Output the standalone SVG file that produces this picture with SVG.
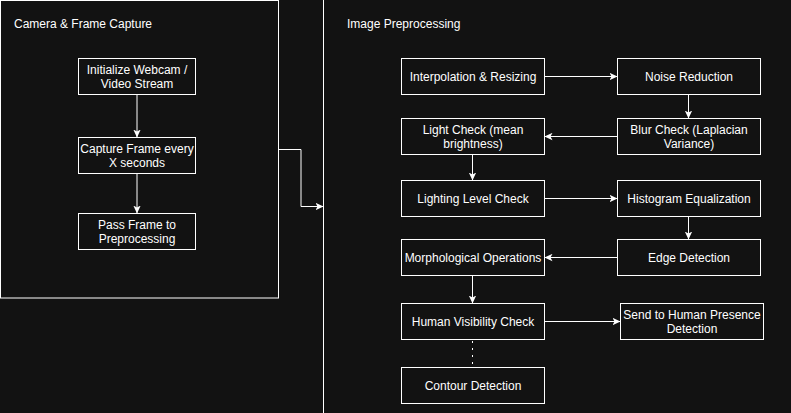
<svg xmlns="http://www.w3.org/2000/svg" width="791" height="413" viewBox="0 0 791 413">
<defs>
<marker id="arr" markerUnits="userSpaceOnUse" markerWidth="8" markerHeight="8" viewBox="0 0 8 8" refX="8" refY="4" orient="auto">
<path d="M0,0.3 L8,4 L0,7.7 L2,4 Z" fill="#ffffff"/>
</marker>
</defs>
<style>
.bg{fill:#121212}
.box{fill:#121212;stroke:#ffffff;stroke-width:1}
.t{font-family:"Liberation Sans",Arial,Helvetica,sans-serif;font-size:12px;fill:#ffffff}
.c{text-anchor:middle}
.e{fill:none;stroke:#ffffff;stroke-width:1}
.ea{fill:none;stroke:#ffffff;stroke-width:1;marker-end:url(#arr)}
.dot{fill:none;stroke:#ffffff;stroke-width:1;stroke-dasharray:2 5}
</style>
<rect class="bg" x="0" y="0" width="791" height="413"/>

<g id="container-camera">
<rect class="box" x="0.5" y="0.5" width="278" height="297.5"/>
<text class="t" x="14" y="27.5">Camera &amp; Frame Capture</text>
</g>
<g id="container-preprocessing">
<rect class="box" x="323.5" y="-5" width="500" height="430"/>
<text class="t" x="347" y="27.5">Image Preprocessing</text>
</g>

<g id="node-init">
<rect class="box" x="78.5" y="58.5" width="117" height="36"/>
<text class="t c" x="137" y="73.8">Initialize Webcam /</text>
<text class="t c" x="137" y="87.8">Video Stream</text>
</g>
<g id="node-capture">
<rect class="box" x="78.5" y="137.5" width="117" height="36"/>
<text class="t c" x="137" y="152.8">Capture Frame every</text>
<text class="t c" x="137" y="166.8">X seconds</text>
</g>
<g id="node-pass">
<rect class="box" x="78.5" y="213.5" width="117" height="36"/>
<text class="t c" x="137" y="228.8">Pass Frame to</text>
<text class="t c" x="137" y="242.8">Preprocessing</text>
</g>

<g id="node-interp">
<rect class="box" x="401.5" y="58.5" width="143" height="36"/>
<text class="t c" x="473" y="80.8">Interpolation &amp; Resizing</text>
</g>
<g id="node-noise">
<rect class="box" x="617.5" y="58.5" width="143" height="36"/>
<text class="t c" x="689" y="80.8">Noise Reduction</text>
</g>
<g id="node-light">
<rect class="box" x="401.5" y="118.5" width="143" height="36"/>
<text class="t c" x="473" y="133.8">Light Check (mean</text>
<text class="t c" x="473" y="147.8">brightness)</text>
</g>
<g id="node-blur">
<rect class="box" x="617.5" y="118.5" width="143" height="36"/>
<text class="t c" x="689" y="133.8">Blur Check (Laplacian</text>
<text class="t c" x="689" y="147.8">Variance)</text>
</g>
<g id="node-lighting">
<rect class="box" x="401.5" y="180.5" width="143" height="36"/>
<text class="t c" x="473" y="202.8">Lighting Level Check</text>
</g>
<g id="node-histogram">
<rect class="box" x="617.5" y="180.5" width="143" height="36"/>
<text class="t c" x="689" y="202.8">Histogram Equalization</text>
</g>
<g id="node-morph">
<rect class="box" x="401.5" y="239.5" width="143" height="36"/>
<text class="t c" x="473" y="261.8">Morphological Operations</text>
</g>
<g id="node-edge">
<rect class="box" x="617.5" y="239.5" width="143" height="36"/>
<text class="t c" x="689" y="261.8">Edge Detection</text>
</g>
<g id="node-human">
<rect class="box" x="401.5" y="303.5" width="143" height="36"/>
<text class="t c" x="473" y="325.8">Human Visibility Check</text>
</g>
<g id="node-send">
<rect class="box" x="620.5" y="303.5" width="143" height="36"/>
<text class="t c" x="692" y="318.8">Send to Human Presence</text>
<text class="t c" x="692" y="332.8">Detection</text>
</g>
<g id="node-contour">
<rect class="box" x="401.5" y="367.5" width="143" height="36"/>
<text class="t c" x="473" y="389.8">Contour Detection</text>
</g>

<g id="connectors">
<path class="ea" d="M137,94.5 L137,137.5"/>
<path class="ea" d="M137,173.5 L137,213.5"/>
<path class="ea" d="M278.5,149.5 L301,149.5 L301,206.5 L323.5,206.5"/>
<path class="ea" d="M544.5,76.5 L617.5,76.5"/>
<path class="ea" d="M688.5,94.5 L688.5,118.5"/>
<path class="ea" d="M617.5,136.5 L544.5,136.5"/>
<path class="ea" d="M472.5,154.5 L472.5,180.5"/>
<path class="ea" d="M544.5,198.5 L617.5,198.5"/>
<path class="ea" d="M688.5,216.5 L688.5,239.5"/>
<path class="ea" d="M617.5,257.5 L544.5,257.5"/>
<path class="ea" d="M472.5,275.5 L472.5,303.5"/>
<path class="ea" d="M544.5,321.5 L620.5,321.5"/>
<path class="dot" d="M472.5,341 L472.5,367.5"/>
</g>
</svg>
